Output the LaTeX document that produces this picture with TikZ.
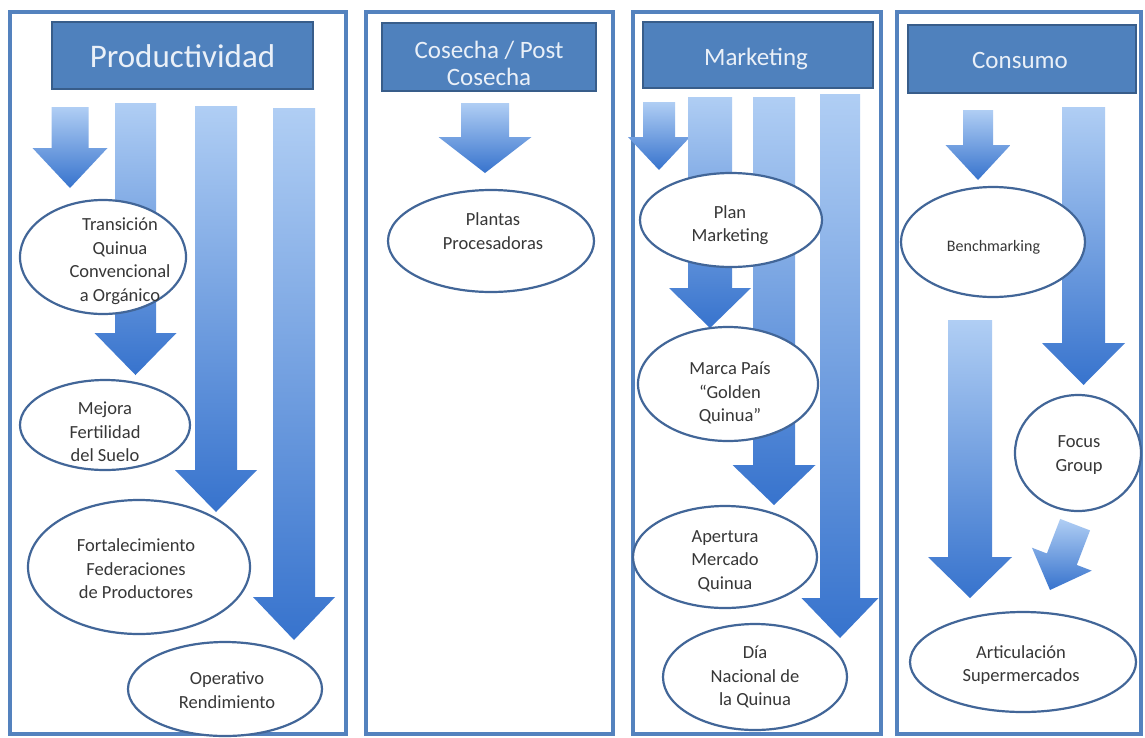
\documentclass[tikz,border=0pt]{standalone}
\usepackage{fontspec}
\setmainfont{Carlito}
\usetikzlibrary{shapes.geometric}
\definecolor{frameblue}{RGB}{84,130,190}
\definecolor{hdrfill}{RGB}{79,129,189}
\definecolor{hdrline}{RGB}{56,93,138}
\definecolor{arrtop}{RGB}{176,206,244}
\definecolor{arrbot}{RGB}{55,115,205}
\definecolor{ellline}{RGB}{66,102,152}
\definecolor{txtgray}{RGB}{55,55,55}
\definecolor{hdrtxt}{RGB}{234,240,248}
\newcommand{\blockarrow}[6]{\shade[arrowshade] (#1-#3,#2) -- (#1+#3,#2) -- (#1+#3,#4) -- (#1+#5,#4) -- (#1,#6) -- (#1-#5,#4) -- (#1-#3,#4) -- cycle;}
\tikzset{
 panel/.style={draw=frameblue, line width=3.5pt, fill=white},
 hdr/.style={draw=hdrline, line width=1.5pt, fill=hdrfill, inner sep=0pt},
 hdrtext/.style={text=hdrtxt, inner sep=0pt, align=center, font=\fontsize{25}{27}\selectfont},
 arrowshade/.style={top color=arrtop, bottom color=arrbot, draw=none},
 ell/.style={ellipse, draw=ellline, line width=2.2pt, fill=white, inner sep=0pt},
 etxt/.style={text=txtgray, align=center, font=\fontsize{18.5}{23.5}\selectfont, inner sep=0pt},
}
\begin{document}
\begin{tikzpicture}[x=1pt,y=-1pt]
\useasboundingbox (0,0) rectangle (1145,737);
\fill[white] (0,0) rectangle (1145,737);
% panels
\draw[panel] (10,12) rectangle (346,734);
\draw[panel] (366,12) rectangle (613,734);
\draw[panel] (633,12) rectangle (881,734);
\draw[panel] (897,12) rectangle (1141,734);
% headers
\node[hdr, minimum width=261pt, minimum height=67pt] (h1) at (182.5,55.5) {};
\node[hdrtext, font=\fontsize{33}{38}\selectfont] (ht1) at (182.5,56) {Productividad};
\node[hdr, minimum width=214pt, minimum height=68pt] (h2) at (489,57) {};
\node[hdrtext] (ht2) at (489,63) {Cosecha / Post\\Cosecha};
\node[hdr, minimum width=230pt, minimum height=66pt] (h3) at (758,55) {};
\node[hdrtext] (ht3) at (756,59) {Marketing};
\node[hdr, minimum width=228pt, minimum height=68pt] (h4) at (1022,59) {};
\node[hdrtext] (ht4) at (1020,60) {Consumo};
% arrows panel 1
\blockarrow{70}{107}{18.5}{148}{37.5}{188}
\blockarrow{135.5}{103}{20.5}{333}{41}{375}
\blockarrow{216}{106}{21}{470}{41}{512}
\blockarrow{294}{108}{21}{597}{41}{640}
% arrow panel 2
\blockarrow{485}{103}{24}{137}{46.5}{173}
% arrows panel 3
\blockarrow{659}{102}{16}{137}{31}{170}
\blockarrow{710}{97}{22}{288}{41}{328}
\blockarrow{774}{97}{21}{465}{41.5}{505}
\blockarrow{840}{94}{20}{598}{38.5}{638}
% arrows panel 4
\blockarrow{978}{110}{15}{145}{32.5}{180}
\blockarrow{1083.5}{107}{21.5}{343}{41.5}{385}
\blockarrow{970}{320}{22}{557}{42}{598}
\begin{scope}[shift={(1050,590)},rotate=-21]
\blockarrow{0}{-70}{16}{-33}{32}{0}
\end{scope}
% ellipses panel 1
\node[ell, minimum width=166pt, minimum height=114pt] (e1) at (103,257) {};
\node[etxt] (t1) at (120,261) {Transición\\Quinua\\Convencional\\a Orgánico};
\node[ell, minimum width=170pt, minimum height=90pt] (e2) at (105,425) {};
\node[etxt] (t2) at (105,432) {Mejora\\Fertilidad\\del Suelo};
\node[ell, minimum width=222pt, minimum height=134pt] (e3) at (139,567) {};
\node[etxt] (t3) at (136,569) {Fortalecimiento\\Federaciones\\de Productores};
\node[ell, minimum width=194pt, minimum height=94pt] (e4) at (225,689) {};
\node[etxt] (t4) at (227,690) {Operativo\\Rendimiento};
% panel 2
\node[ell, minimum width=206pt, minimum height=102pt] (e5) at (491,241) {};
\node[etxt] (t5) at (493,231) {Plantas\\Procesadoras};
% panel 3
\node[ell, minimum width=182pt, minimum height=94pt] (e6) at (731,220) {};
\node[etxt] (t6) at (730,225) {Plan\\Marketing};
\node[ell, minimum width=180pt, minimum height=114pt] (e7) at (728,384) {};
\node[etxt] (t7) at (730,393) {Marca País\\“Golden\\Quinua”};
\node[ell, minimum width=184pt, minimum height=102pt] (e8) at (725,557) {};
\node[etxt] (t8) at (725,561) {Apertura\\Mercado\\Quinua};
\node[ell, minimum width=184pt, minimum height=106pt] (e9) at (755,677) {};
\node[etxt] (t9) at (755,677) {Día\\Nacional de\\la Quinua};
% panel 4
\node[ell, minimum width=184pt, minimum height=110pt] (e10) at (993,242) {};
\node[etxt, font=\fontsize{16}{20}\selectfont] (t10) at (993.5,247) {Benchmarking};
\node[ell, minimum width=126pt, minimum height=116pt] (e11) at (1078,453) {};
\node[etxt] (t11) at (1079,455) {Focus\\Group};
\node[ell, minimum width=226pt, minimum height=100pt] (e12) at (1023,662) {};
\node[etxt] (t12) at (1021,665) {Articulación\\Supermercados};
\end{tikzpicture}
\end{document}
